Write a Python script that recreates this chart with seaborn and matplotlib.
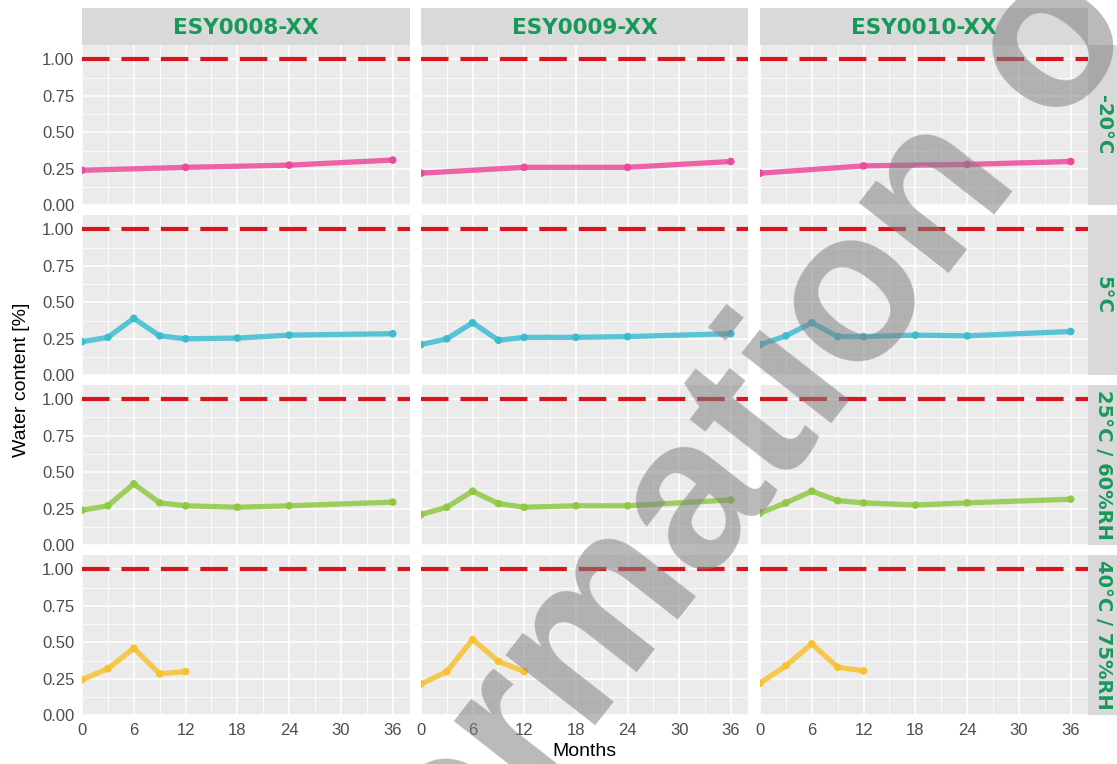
import matplotlib
matplotlib.use("Agg")
import matplotlib.pyplot as plt
import numpy as np
import pandas as pd
import seaborn as sns

# ---- data -----------------------------------------------------------------
batches = ["ESY0008-XX", "ESY0009-XX", "ESY0010-XX"]
conditions = ["-20°C", "5°C", "25°C / 60%RH", "40°C / 75%RH"]

months_frozen = [0, 12, 24, 36]
months_long = [0, 3, 6, 9, 12, 18, 24, 36]
months_accel = [0, 3, 6, 9, 12]

# -20°C
water_m20_0008 = [0.24, 0.26, 0.275, 0.31]
water_m20_0009 = [0.22, 0.26, 0.26, 0.30]
water_m20_0010 = [0.22, 0.27, 0.28, 0.30]
# 5°C
water_5_0008 = [0.23, 0.26, 0.39, 0.27, 0.25, 0.255, 0.275, 0.285]
water_5_0009 = [0.21, 0.25, 0.36, 0.24, 0.26, 0.26, 0.265, 0.285]
water_5_0010 = [0.21, 0.27, 0.36, 0.265, 0.265, 0.275, 0.27, 0.30]
# 25°C / 60%RH
water_25_0008 = [0.24, 0.27, 0.42, 0.29, 0.27, 0.26, 0.27, 0.295]
water_25_0009 = [0.21, 0.26, 0.37, 0.285, 0.26, 0.27, 0.27, 0.31]
water_25_0010 = [0.22, 0.29, 0.37, 0.305, 0.29, 0.275, 0.29, 0.315]
# 40°C / 75%RH
water_40_0008 = [0.245, 0.32, 0.46, 0.285, 0.30]
water_40_0009 = [0.215, 0.30, 0.52, 0.37, 0.30]
water_40_0010 = [0.22, 0.34, 0.49, 0.33, 0.305]

spec_limit = 1.0

condition_colors = ["#EC4A9C", "#3DBCD0", "#90C843", "#F7C131"]

series = [
    (conditions[0], months_frozen, [water_m20_0008, water_m20_0009, water_m20_0010]),
    (conditions[1], months_long, [water_5_0008, water_5_0009, water_5_0010]),
    (conditions[2], months_long, [water_25_0008, water_25_0009, water_25_0010]),
    (conditions[3], months_accel, [water_40_0008, water_40_0009, water_40_0010]),
]
rows = []
for cond, months, per_batch in series:
    for batch, values in zip(batches, per_batch):
        for m, v in zip(months, values):
            rows.append({"Condition": cond, "Batch": batch, "Months": m, "Water": v})
df = pd.DataFrame(rows)

# ---- style ----------------------------------------------------------------
sns.set_theme(style="white")
plt.rcParams["font.family"] = ["Liberation Sans", "DejaVu Sans"]
plt.rcParams["lines.scale_dashes"] = False

W, H = 1117, 764
fig = plt.figure(figsize=(W / 100, H / 100), dpi=100)
fig.patch.set_facecolor("white")


def px_rect(left, top, w, h):
    return [left / W, 1 - (top + h) / H, w / W, h / H]


col_left = [82, 421, 760]
col_width = [328, 327, 328]
row_top = [44.7, 214.7, 384.6, 554.8]
panel_h = 160.6
strip_top, strip_h = 8, 36.7
right_strip_w = 29

panel_bg = "#EBEBEB"
strip_bg = "#D9D9D9"
strip_green = "#17995A"
tick_grey = "#4D4D4D"

for r, cond in enumerate(conditions):
    for c, batch in enumerate(batches):
        ax = fig.add_axes(px_rect(col_left[c], row_top[r], col_width[c], panel_h))
        ax.set_facecolor(panel_bg)
        sub = df[(df["Condition"] == cond) & (df["Batch"] == batch)]

        ax.set_xlim(0, 38)
        ax.set_ylim(0, 1.1)
        ax.set_xticks(np.arange(0, 37, 6))
        ax.set_xticks(np.arange(3, 37, 6), minor=True)
        ax.set_yticks([0, 0.25, 0.5, 0.75, 1.0])
        ax.set_yticks([0.125, 0.375, 0.625, 0.875], minor=True)
        ax.grid(which="major", color="white", linewidth=1.1)
        ax.grid(which="minor", color="white", linewidth=0.55)
        ax.set_axisbelow(True)
        for s in ax.spines.values():
            s.set_visible(False)

        ax.axhline(spec_limit, color="#D7151C", linewidth=3.0,
                   dashes=(19.8, 8.6), zorder=2)

        sns.lineplot(data=sub, x="Months", y="Water", ax=ax,
                     color=condition_colors[r], linewidth=3.8, alpha=0.85,
                     estimator=None, legend=False, zorder=3)
        sns.scatterplot(data=sub, x="Months", y="Water", ax=ax,
                        color=condition_colors[r], s=30, edgecolor="none",
                        legend=False, zorder=4)
        ax.set_xlabel("")
        ax.set_ylabel("")

        ax.tick_params(which="minor", length=0)
        ax.tick_params(which="major", color="#333333", width=1.0, length=3.0,
                       labelcolor=tick_grey, labelsize=12, pad=2.5)
        if c == 0:
            ax.set_yticklabels(["0.00", "0.25", "0.50", "0.75", "1.00"])
        else:
            ax.tick_params(axis="y", left=False, labelleft=False)
        if r != len(conditions) - 1:
            ax.tick_params(axis="x", bottom=False, labelbottom=False)

        # column strips on the top row
        if r == 0:
            sax = fig.add_axes(px_rect(col_left[c], strip_top, col_width[c], strip_h))
            sax.set_facecolor(strip_bg)
            sax.set_xticks([])
            sax.set_yticks([])
            for s in sax.spines.values():
                s.set_visible(False)
            sax.text(0.5, 0.46, batch, ha="center", va="center", color=strip_green,
                     fontsize=15.5, fontweight="bold", family=["DejaVu Sans"],
                     transform=sax.transAxes)
        # row strips on the right column
        if c == len(batches) - 1:
            rax = fig.add_axes(px_rect(col_left[c] + col_width[c], row_top[r],
                                       right_strip_w, panel_h))
            rax.set_facecolor(strip_bg)
            rax.set_xticks([])
            rax.set_yticks([])
            for s in rax.spines.values():
                s.set_visible(False)
            rax.text(0.52, 0.5, cond, ha="center", va="center", rotation=-90,
                     color=strip_green, fontsize=14, fontweight="bold",
                     family=["DejaVu Sans"], transform=rax.transAxes)

fig.text(22 / W, 1 - 380 / H, "Water content [%]", rotation=90, ha="center",
         va="center", fontsize=14, color="black")
fig.text(584 / W, 1 - 751 / H, "Months", ha="center", va="center",
         fontsize=14, color="black")

# watermark
fig.text(643 / W, 1 - 575 / H, "For information only", rotation=52,
         rotation_mode="anchor", ha="center", va="center", fontsize=155,
         fontweight="bold", color="#808080", alpha=0.55, zorder=20)

fig.savefig("out.png", dpi=100)
